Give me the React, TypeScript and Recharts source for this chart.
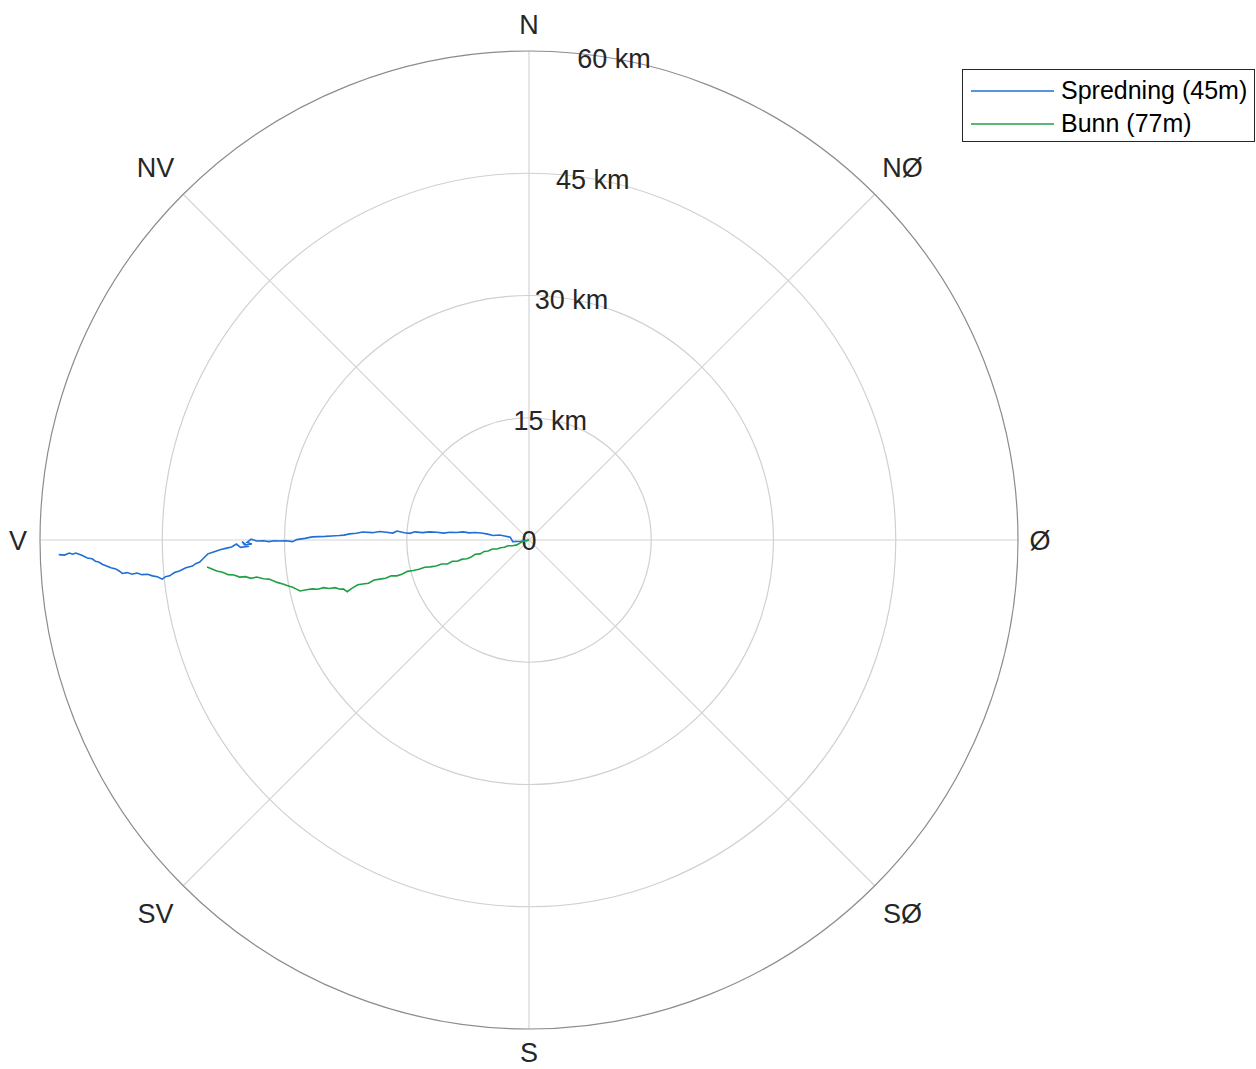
import { ScatterChart, Scatter, XAxis, YAxis, ReferenceDot, ReferenceLine } from 'recharts';

// positions in km, east (+) / north (+)
const spredningEast = [
  0, -1.0, -2.0, -2.3, -3.0, -3.6, -4.4, -5.2, -5.9, -6.6, -7.3, -8.1, -8.9, -9.7, -10.5, -11.3, -12.2, -13.1, -14.0, -14.6,
  -15.3, -16.2, -16.7, -17.5, -18.3, -19.2, -20.4, -21.2, -22.0, -22.7, -23.3, -24.2, -25.0, -25.8, -26.6, -27.5, -28.5, -29.0, -29.8, -30.6,
  -31.3, -31.9, -32.6, -33.4, -34.1, -34.6, -34.0, -34.9, -35.2, -34.5, -35.4, -35.9, -36.5, -37.1, -37.9, -38.8, -39.4, -40.0, -40.4, -40.9,
  -41.3, -42.1, -42.9, -43.5, -44.1, -44.6, -45.0, -45.6, -46.2, -46.8, -47.5, -48.1, -48.7, -49.3, -49.9, -50.3, -50.7, -51.3, -51.9, -52.3,
  -52.8, -53.2, -53.6, -54.2, -54.8, -55.2, -55.6, -56.0, -56.4, -57.0, -57.7,
];
const spredningNorth = [
  0, -0.15, -0.2, 0.35, 0.5, 0.62, 0.55, 0.75, 0.85, 0.92, 0.88, 1.0, 0.92, 0.95, 0.85, 0.95, 1.0, 0.9, 1.0, 0.82,
  0.88, 1.1, 0.85, 0.95, 1.05, 0.9, 0.98, 0.82, 0.75, 0.6, 0.55, 0.5, 0.45, 0.42, 0.38, 0.2, 0.05, -0.2, -0.1, -0.12,
  -0.1, -0.2, -0.1, -0.12, 0.1, -0.3, -0.5, -0.6, -0.2, -0.8, -0.9, -0.5, -0.85, -1.0, -1.2, -1.5, -1.7, -2.3, -2.7, -2.9,
  -3.2, -3.4, -3.8, -4.0, -4.4, -4.5, -4.8, -4.5, -4.4, -4.2, -4.25, -4.05, -4.2, -4.0, -4.1, -3.8, -3.55, -3.4, -3.15, -3.0,
  -2.7, -2.6, -2.3, -2.2, -1.9, -1.75, -1.6, -1.75, -1.6, -1.85, -1.8,
];

const bunnEast = [
  0, -0.9, -1.5, -2.0, -2.6, -3.0, -3.5, -3.9, -4.5, -5.0, -5.5, -6.0, -6.6, -7.1, -7.6, -8.2, -8.8, -9.4, -10.0, -10.7,
  -11.4, -12.1, -12.8, -13.5, -14.2, -14.9, -15.6, -16.2, -16.9, -17.6, -18.3, -19.0, -19.7, -20.4, -21.0, -21.7, -22.3, -22.8, -23.2, -23.8,
  -24.5, -25.2, -25.9, -26.6, -27.3, -28.1, -28.6, -29.0, -29.6, -30.2, -30.9, -31.4, -31.9, -32.6, -33.4, -34.1, -34.8, -35.5, -36.2, -36.9,
  -37.6, -38.3, -38.9, -39.5,
];
const bunnNorth = [
  0, -0.25, -0.6, -0.7, -0.7, -0.9, -0.95, -1.1, -1.1, -1.35, -1.4, -1.7, -1.75, -2.1, -2.3, -2.35, -2.6, -2.6, -2.95, -2.95,
  -3.2, -3.3, -3.35, -3.6, -3.75, -3.85, -4.2, -4.4, -4.4, -4.7, -4.8, -4.9, -5.3, -5.4, -5.5, -5.9, -6.35, -6.0, -6.05, -5.85,
  -5.95, -5.85, -6.05, -6.0, -6.1, -6.25, -6.0, -5.8, -5.6, -5.4, -5.2, -5.0, -4.8, -4.75, -4.55, -4.7, -4.5, -4.55, -4.3, -4.25,
  -3.95, -3.8, -3.55, -3.3,
];

const rings = [15, 30, 45, 60];
const ringLabels = ['15 km', '30 km', '45 km', '60 km'];
const compass = ['Ø', 'NØ', 'N', 'NV', 'V', 'SV', 'S', 'SØ'];
const compassAngles = [0, 45, 90, 135, 180, 225, 270, 315];

const toPoints = (east: number[], north: number[]) => east.map((x, i) => ({ x, y: north[i] }));
const spredning = toPoints(spredningEast, spredningNorth);
const bunn = toPoints(bunnEast, bunnNorth);

const series = [
  { name: 'Spredning (45m)', data: spredning, color: '#1f6fd6' },
  { name: 'Bunn (77m)', data: bunn, color: '#20a046' },
];

const W = 1256;
const H = 1069;
const PLOT = 978;
const PX_PER_KM = PLOT / 120;
const font = '"Liberation Sans", Arial, sans-serif';
const textColor = '#262626';

const rad = (deg: number) => (deg * Math.PI) / 180;
// label radius (km) a little outside the outer ring, diagonals slightly further
const labelRadius = (deg: number) => {
  if (deg === 270) return 62.8; // kept inside the page bottom
  if (deg % 180 === 0) return 62.7;
  if (deg % 90 === 0) return 63.3;
  return 64.8;
};

const noShape = () => null;

function LegendBox() {
  return (
    <div
      style={{
        position: 'absolute',
        left: 962,
        top: 69,
        width: 293,
        height: 73,
        border: '1px solid #262626',
        background: '#fff',
        fontFamily: font,
        fontSize: 25,
        color: '#000',
        boxSizing: 'border-box',
        paddingTop: 4,
      }}
    >
      {series.map((s) => (
        <div key={s.name} style={{ display: 'flex', alignItems: 'center', height: 33 }}>
          <svg width={98} height={10} style={{ display: 'block' }}>
            <line x1={8} y1={5} x2={91} y2={5} stroke={s.color} strokeWidth={1.6} />
          </svg>
          <span>{s.name}</span>
        </div>
      ))}
    </div>
  );
}

export default function App() {
  return (
    <div style={{ position: 'absolute', left: 0, top: 0, width: W, height: H, background: '#fff' }}>
      <ScatterChart width={W} height={H} margin={{ top: 51, right: 238, bottom: 40, left: 40 }}>
        <XAxis type="number" dataKey="x" domain={[-60, 60]} hide allowDataOverflow />
        <YAxis type="number" dataKey="y" domain={[-60, 60]} hide allowDataOverflow />

        {/* spokes */}
        {[0, 45, 90, 135].map((a) => (
          <ReferenceLine
            key={'sp' + a}
            segment={[
              { x: 60 * Math.cos(rad(a)), y: 60 * Math.sin(rad(a)) },
              { x: -60 * Math.cos(rad(a)), y: -60 * Math.sin(rad(a)) },
            ]}
            stroke="#d4d4d4"
            strokeWidth={1.2}
            ifOverflow="visible"
          />
        ))}

        {/* rings */}
        {rings.map((r, i) => (
          <ReferenceDot
            key={'ring' + r}
            x={0}
            y={0}
            r={r * PX_PER_KM}
            fill="none"
            stroke={i === rings.length - 1 ? '#8c8c8c' : '#d0d0d0'}
            strokeWidth={1.2}
            ifOverflow="visible"
          />
        ))}

        {/* ring labels */}
        {rings.map((r, i) => (
          <ReferenceDot
            key={'rl' + r}
            x={r * Math.cos(rad(80))}
            y={r * Math.sin(rad(80))}
            r={0}
            ifOverflow="visible"
            shape={(p: any) => (
              <text x={p.cx} y={p.cy + 1} textAnchor="middle" dominantBaseline="central" fontFamily={font} fontSize={27} fill={textColor}>
                {ringLabels[i]}
              </text>
            )}
          />
        ))}
        <ReferenceDot
          x={0}
          y={0}
          r={0}
          ifOverflow="visible"
          shape={(p: any) => (
            <text x={p.cx} y={p.cy + 1} textAnchor="middle" dominantBaseline="central" fontFamily={font} fontSize={27} fill={textColor}>
              0
            </text>
          )}
        />

        {/* compass labels */}
        {compass.map((c, i) => (
          <ReferenceDot
            key={'c' + c}
            x={labelRadius(compassAngles[i]) * Math.cos(rad(compassAngles[i]))}
            y={labelRadius(compassAngles[i]) * Math.sin(rad(compassAngles[i]))}
            r={0}
            ifOverflow="visible"
            shape={(p: any) => (
              <text x={p.cx} y={p.cy + 1} textAnchor="middle" dominantBaseline="central" fontFamily={font} fontSize={27} fill={textColor}>
                {c}
              </text>
            )}
          />
        ))}

        {series.map((s) => (
          <Scatter
            key={s.name}
            name={s.name}
            data={s.data}
            fill={s.color}
            line={{ stroke: s.color, strokeWidth: 1.6 }}
            lineType="joint"
            shape={noShape}
            isAnimationActive={false}
          />
        ))}
      </ScatterChart>
      <LegendBox />
    </div>
  );
}
